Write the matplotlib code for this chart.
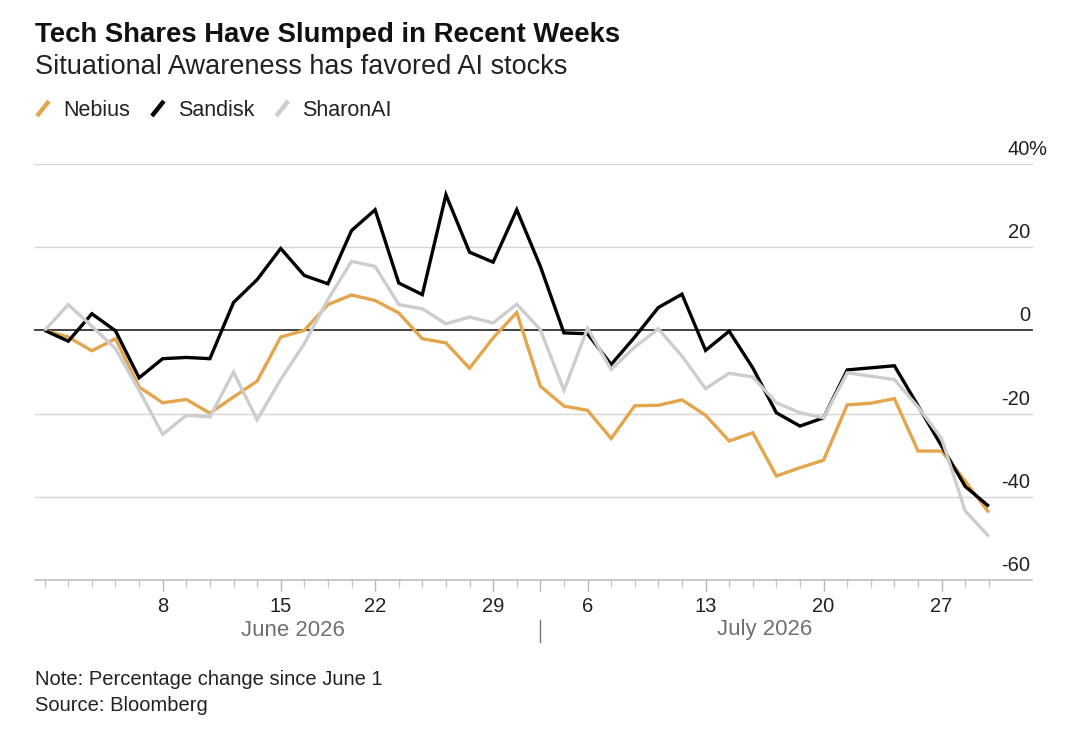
import matplotlib
matplotlib.use("Agg")
import matplotlib.pyplot as plt
import matplotlib.transforms as mtransforms
from matplotlib.lines import Line2D
import numpy as np

plt.rcParams['font.family'] = ['Liberation Sans', 'DejaVu Sans']

# ---------------- data ----------------
dates = [
    "2026-06-01", "2026-06-02", "2026-06-03", "2026-06-04", "2026-06-05",
    "2026-06-08", "2026-06-09", "2026-06-10", "2026-06-11", "2026-06-12",
    "2026-06-15", "2026-06-16", "2026-06-17", "2026-06-18",
    "2026-06-22", "2026-06-23", "2026-06-24", "2026-06-25", "2026-06-26",
    "2026-06-29", "2026-06-30", "2026-07-01", "2026-07-02",
    "2026-07-06", "2026-07-07", "2026-07-08", "2026-07-09", "2026-07-10",
    "2026-07-13", "2026-07-14", "2026-07-15", "2026-07-16", "2026-07-17",
    "2026-07-20", "2026-07-21", "2026-07-22", "2026-07-23", "2026-07-24",
    "2026-07-27", "2026-07-28", "2026-07-29",
]

nebius = [0.0, -1.6, -4.9, -2.0, -13.6, -17.4, -16.6, -19.9, -16.0, -12.2,
          -1.6, 0.0, 6.2, 8.5, 7.2, 4.2, -2.0, -3.0, -9.1, -1.8,
          4.3, -13.4, -18.2, -19.2, -26.0, -18.1, -18.0, -16.7, -20.4, -26.6,
          -24.6, -35.0, -33.0, -31.2, -17.9, -17.5, -16.4, -29.0, -29.0, -36.2,
          -43.8]

sandisk = [0.0, -2.6, 4.0, -0.1, -11.4, -6.8, -6.5, -6.8, 6.7, 12.2,
           19.7, 13.2, 11.2, 24.0, 29.0, 11.4, 8.6, 32.6, 18.8, 16.4,
           29.0, 15.4, -0.6, -0.8, -8.2, -1.6, 5.5, 8.7, -4.8, -0.2,
           -9.0, -19.8, -23.0, -21.0, -9.5, -9.0, -8.5, -18.1, -27.8, -37.5,
           -42.3]

sharonai = [0.0, 6.2, 1.0, -4.4, -14.4, -25.0, -20.4, -20.8, -10.0, -21.5,
            -11.8, -3.2, 7.4, 16.6, 15.4, 6.2, 5.2, 1.6, 3.2, 1.8,
            6.3, 0.2, -14.4, 0.5, -9.4, -4.0, 0.4, -6.2, -14.0, -10.3,
            -11.2, -17.4, -19.8, -21.0, -10.2, -11.0, -11.8, -18.4, -26.0, -43.4,
            -49.5]

series_names = ["Nebius", "Sandisk", "SharonAI"]
series_colors = ["#E3A64C", "#000000", "#CDCDCD"]

y_ticks = [-60, -40, -20, 0, 20, 40]
y_tick_labels = ["-60", "-40", "-20", "0", "20", "40"]

day_tick_dates = ["2026-06-08", "2026-06-15", "2026-06-22", "2026-06-29",
                  "2026-07-06", "2026-07-13", "2026-07-20", "2026-07-27"]
day_tick_labels = ["8", "15", "22", "29", "6", "13", "20", "27"]
month_boundary_date = "2026-07-01"
month_labels = ["June 2026", "July 2026"]

title = "Tech Shares Have Slumped in Recent Weeks"
subtitle = "Situational Awareness has favored AI stocks"
note = "Note: Percentage change since June 1"
source = "Source: Bloomberg"

# ---------------- figure ----------------
W, H = 1080, 750
fig = plt.figure(figsize=(W / 100, H / 100), dpi=100)
fig.patch.set_facecolor("white")


def fx(px):
    return px / W


def fy(py):
    return 1 - py / H


ax = fig.add_axes([fx(35), fy(580), fx(1032) - fx(35), fy(164) - fy(580)])
x = np.arange(len(dates))
ax.set_xlim(-0.41, 41.83)
ax.set_ylim(y_ticks[0], y_ticks[-1])

for s in ["left", "right", "top"]:
    ax.spines[s].set_visible(False)
ax.spines["bottom"].set_color("#bdbdbd")
ax.spines["bottom"].set_linewidth(1.2)

# gridlines
for v in y_ticks[1:]:
    if v == 0:
        ax.axhline(v, color="#333333", lw=1.3, zorder=2, clip_on=False)
    else:
        ax.axhline(v, color="#d6d6d6", lw=1.0, zorder=1, clip_on=False)

# series
order = [2, 0, 1]
data = [nebius, sandisk, sharonai]
for i in order:
    ax.plot(x, data[i], color=series_colors[i], lw=2.4, zorder=3 + i,
            solid_joinstyle="miter", solid_capstyle="butt")

# y labels (inside, above gridlines at right)
ytrans = mtransforms.blended_transform_factory(ax.transAxes, ax.transData)
off = mtransforms.ScaledTranslation(-2 / 100, 9 / 100, fig.dpi_scale_trans)
off_pct = mtransforms.ScaledTranslation(-4 / 100, 9 / 100, fig.dpi_scale_trans)
for v, lab in zip(y_ticks, y_tick_labels):
    ax.text(1.0, v, lab, transform=ytrans + off, ha="right", va="baseline",
            fontsize=14.5, color="#222222")
ax.text(1.0, y_ticks[-1], "%", transform=ytrans + off_pct, ha="left",
        va="baseline", fontsize=14.5, color="#222222")
ax.set_yticks([])

# x ticks
pos_map = {d: i for i, d in enumerate(dates)}
boundary = pos_map[month_boundary_date]
major_pos = [pos_map[d] for d in day_tick_dates] + [boundary]
major_lab = list(day_tick_labels) + [""]
srt = np.argsort(major_pos)
ax.set_xticks([major_pos[k] for k in srt], [major_lab[k] for k in srt])
ax.set_xticks(x, minor=True)
ax.tick_params(axis="x", which="major", length=8, width=1, color="#b5b5b5",
               labelsize=14.5, labelcolor="#222222", pad=4.5)
ax.tick_params(axis="x", which="minor", length=5, width=1, color="#c5c5c5")

# month labels + separator
xtrans = mtransforms.blended_transform_factory(ax.transData, ax.transAxes)
ax_h_px = 580 - 164
month_centers = [(x[0] + boundary) / 2, (boundary + x[-1]) / 2]
for c, lab in zip(month_centers, month_labels):
    ax.text(c, -50 / ax_h_px, lab, transform=xtrans, ha="center", va="center",
            fontsize=16, color="#707070")
ax.plot([boundary, boundary], [-40 / ax_h_px, -62 / ax_h_px], transform=xtrans,
        color="#777777", lw=1.0, clip_on=False)

# titles
fig.text(fx(35), fy(42), title, fontsize=19.8, fontweight="bold",
         color="#111111", va="baseline", ha="left")
fig.text(fx(35), fy(74), subtitle, fontsize=19.5, color="#222222",
         va="baseline", ha="left")

# legend
renderer = fig.canvas.get_renderer()
cur = 37
for i in [0, 1, 2]:
    ln = Line2D([fx(cur), fx(cur + 12)], [fy(116), fy(101)],
                transform=fig.transFigure, color=series_colors[i], lw=3.2,
                solid_capstyle="butt")
    fig.add_artist(ln)
    t = fig.text(fx(cur + 26), fy(116), series_names[i], fontsize=15.5,
                 color="#222222", va="baseline", ha="left")
    bb = t.get_window_extent(renderer=renderer)
    cur = bb.x1 + 22

# footnotes
fig.text(fx(35), fy(685), note, fontsize=14.5, color="#222222",
         va="baseline", ha="left")
fig.text(fx(35), fy(711), source, fontsize=14.5, color="#222222",
         va="baseline", ha="left")

fig.savefig("out.png", dpi=100, facecolor="white")
